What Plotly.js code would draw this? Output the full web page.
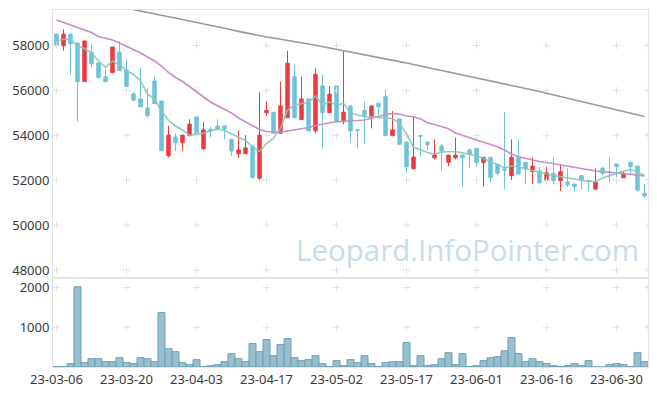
<!DOCTYPE html>
<html>
<head>
<meta charset="utf-8">
<script src="https://cdn.plot.ly/plotly-3.0.1.min.js"></script>
<style>html,body{margin:0;padding:0;background:#fff;}#chart{width:657px;height:396px;}</style>
</head>
<body>
<div id="chart"></div>
<script>
const dates = [
 '23-03-06','23-03-07','23-03-08','23-03-09','23-03-10','23-03-13','23-03-14','23-03-15','23-03-16','23-03-17',
 '23-03-20','23-03-21','23-03-22','23-03-23','23-03-24','23-03-27','23-03-28','23-03-29','23-03-30','23-03-31',
 '23-04-03','23-04-04','23-04-05','23-04-06','23-04-07','23-04-10','23-04-11','23-04-12','23-04-13','23-04-14',
 '23-04-17','23-04-18','23-04-19','23-04-20','23-04-21','23-04-24','23-04-25','23-04-26','23-04-27','23-04-28',
 '23-05-02','23-05-03','23-05-04','23-05-08','23-05-09','23-05-10','23-05-11','23-05-12','23-05-15','23-05-16',
 '23-05-17','23-05-18','23-05-19','23-05-22','23-05-23','23-05-24','23-05-25','23-05-26','23-05-30','23-05-31',
 '23-06-01','23-06-02','23-06-05','23-06-07','23-06-08','23-06-09','23-06-12','23-06-13','23-06-14','23-06-15',
 '23-06-16','23-06-19','23-06-20','23-06-21','23-06-22','23-06-23','23-06-26','23-06-27','23-06-28','23-06-29',
 '23-06-30','23-07-03','23-07-04','23-07-05','23-07-06'
];
const openP = [
 58510,57990,58510,58110,56390,57700,57220,56610,56790,57710,
 56910,55840,55620,55220,56420,55530,53090,53930,53670,53980,
 54820,53400,54270,54420,54420,53830,53180,53180,53520,52090,
 55010,55030,54090,54780,56610,54700,55620,54200,56200,55010,
 56200,54610,55310,54250,55110,54780,55430,55720,53980,54730,
 53700,52510,54000,53700,53000,53520,52800,53000,53120,53350,
 53420,52780,53020,52710,52500,52200,53050,52800,52380,52410,
 51980,52310,51980,51920,51830,52200,51990,51600,52530,52380,
 52720,52110,52800,52630,51420
];
const highP = [
 58520,58720,58510,58110,58200,58100,57220,56910,57930,58200,
 57390,55940,56990,56090,56610,55530,54420,54090,54010,54710,
 54820,54610,54380,54710,54420,53830,54220,54010,53520,55920,
 55500,55030,56390,57770,57130,56610,55620,56990,56720,56200,
 56200,57800,55310,54250,55500,55310,55430,56020,55080,54730,
 53700,54830,54000,53700,53820,53610,53120,53890,53120,53420,
 53420,53020,53020,52710,55030,53820,53820,52800,53020,52600,
 52600,53020,52710,52530,51830,52200,52000,52530,52600,53020,
 52720,52370,52800,52630,51830
];
const lowP = [
 57980,57770,56720,54610,56390,57010,56570,56390,56790,56880,
 56170,55500,55270,54780,55410,53310,53020,53300,53300,53980,
 54070,53350,53890,54190,53830,53090,53000,53180,52110,52000,
 54870,54090,54090,54780,54780,54700,54200,54090,53420,55010,
 54610,54490,53690,53420,53610,54310,54900,53980,53980,53600,
 52310,52510,53050,53310,52930,52410,52630,52930,51710,52530,
 52600,51710,51890,52230,51600,52010,52280,51830,51830,51830,
 51830,51830,51520,51710,51520,51600,51520,51600,52220,51920,
 51920,52110,52220,51490,51220
];
const closeP = [
 57990,58500,58070,56390,58200,57180,56570,56390,57930,56880,
 56170,55570,55270,54870,55410,53310,54010,53670,54010,54500,
 54070,54240,54190,54280,54280,53300,53350,53440,52110,54010,
 55110,54090,55310,57210,54780,55620,54200,56720,55010,55830,
 54610,55030,54200,54220,54870,55310,55270,53980,54240,53600,
 52600,53030,53960,53580,53120,53300,53120,53120,53000,53170,
 52780,53020,52110,52310,52450,53020,52280,52500,52630,51890,
 52330,51980,52380,51800,51710,52000,51960,51920,52310,52340,
 52600,52310,52600,51560,51300
];
const ma5 = [
 58214,58276,58276,57978,57866,57666,57310,57020,57310,57132,
 56887,56708,56419,55840,55617,55083,54660,54415,54237,53992,
 54059,54090,54205,54281,54214,54059,53902,53769,53479,53279,
 53635,53867,54326,55127,55328,55417,55461,55751,55350,55484,
 55350,55417,55016,54905,54838,54816,54816,54793,54749,54549,
 54059,53479,53346,53235,53146,53257,53270,53270,53221,53159,
 53079,52967,52811,52700,52544,52633,52589,52508,52442,52353,
 52277,52210,52152,52085,52041,51996,51956,51934,52099,52210,
 52322,52402,52477,52379,52210
];
const ma20 = [
 59136,59024,58913,58811,58713,58579,58401,58321,58245,58111,
 57969,57822,57666,57488,57310,57087,56798,56575,56397,56174,
 55929,55706,55484,55328,55172,54994,54771,54593,54415,54259,
 54170,54148,54134,54192,54237,54290,54348,54437,54504,54557,
 54602,54638,54651,54660,54682,54758,54838,54927,54971,54949,
 54860,54829,54727,54562,54482,54393,54290,54103,53992,53880,
 53791,53689,53591,53493,53346,53168,53047,52967,52900,52833,
 52789,52735,52677,52611,52544,52486,52446,52410,52379,52357,
 52335,52312,52268,52223,52188
];
const ma120 = [
 60294,60229,60164,60100,60035,59970,59905,59840,59775,59711,
 59646,59581,59520,59459,59398,59337,59276,59215,59154,59093,
 59032,58969,58901,58833,58766,58698,58630,58563,58495,58428,
 58379,58334,58285,58240,58183,58125,58067,58009,57951,57893,
 57835,57773,57711,57648,57590,57528,57466,57403,57345,57283,
 57221,57154,57091,57025,56962,56895,56833,56766,56704,56637,
 56575,56508,56446,56379,56312,56250,56183,56107,56031,55951,
 55876,55800,55724,55644,55568,55492,55417,55346,55274,55198,
 55127,55056,54985,54909,54838
];
const volume = [
 10,10,85,2020,110,210,210,135,135,235,
 110,85,235,210,135,1370,460,385,110,60,
 185,10,35,60,135,335,210,135,590,385,
 690,285,565,715,235,160,185,285,85,10,
 160,35,185,110,285,85,10,110,135,135,
 615,35,285,35,60,210,360,60,335,10,
 35,160,235,260,410,740,335,135,210,135,
 85,35,10,35,85,35,160,0,0,60,
 85,60,10,360,135
];
const priceTicks = [48000,50000,52000,54000,56000,58000];
const volTicks = [1000,2000];
const xTickEvery = 10;

const idx = dates.map((d,i)=>i);
const xTickVals = idx.filter(i => i % xTickEvery === 0);
const xTickText = xTickVals.map(i => dates[i]);

// grid crosses
const crossX = xTickVals.concat([dates.length - 0.5]);
function crosses(yTicks){
  const xs=[], ys=[];
  crossX.forEach(x => yTicks.forEach(y => { xs.push(x); ys.push(y); }));
  return {xs, ys};
}
const cp = crosses(priceTicks), cv = crosses(volTicks);
const crossMarker = {symbol:'cross-thin', size:5, color:'#e2e2e2', line:{color:'#e2e2e2', width:1}};

const RED = '#ee3a3f', BLUE = '#6ec3d9';
const traces = [
  {type:'scatter', mode:'markers', x:cp.xs, y:cp.ys, xaxis:'x', yaxis:'y', marker:crossMarker, hoverinfo:'skip', showlegend:false},
  {type:'scatter', mode:'markers', x:cv.xs, y:cv.ys, xaxis:'x2', yaxis:'y2', marker:crossMarker, hoverinfo:'skip', showlegend:false},
  {type:'candlestick', x:idx, open:openP, high:highP, low:lowP, close:closeP, xaxis:'x', yaxis:'y',
   increasing:{line:{color:RED, width:1}, fillcolor:RED},
   decreasing:{line:{color:BLUE, width:1}, fillcolor:BLUE},
   showlegend:false, hoverinfo:'skip'},
  {type:'scatter', mode:'lines', x:idx, y:ma120, xaxis:'x', yaxis:'y', line:{color:'#9a9a9a', width:1.6}, showlegend:false, hoverinfo:'skip'},
  {type:'scatter', mode:'lines', x:idx, y:ma20, xaxis:'x', yaxis:'y', line:{color:'#c98cc6', width:1.6}, showlegend:false, hoverinfo:'skip'},
  {type:'scatter', mode:'lines', x:idx, y:ma5, xaxis:'x', yaxis:'y', line:{color:'rgba(130,200,185,0.9)', width:1.6}, showlegend:false, hoverinfo:'skip'},
  {type:'bar', x:idx, y:volume, xaxis:'x2', yaxis:'y2', marker:{color:'#98bfd0', line:{color:'#6e9fb5', width:1}}, showlegend:false, hoverinfo:'skip'}
];

const axisFont = {family:'Noto Sans, DejaVu Sans, sans-serif', size:13, color:'#3a3a3a'};
const lineCol = '#e4e4e4';
const layout = {
  width:657, height:396,
  margin:{l:53, r:9, t:10, b:29, pad:0},
  paper_bgcolor:'#fff', plot_bgcolor:'#fff',
  bargap:0, boxgap:0.3,
  showlegend:false,
  xaxis:{domain:[0,1], anchor:'y', range:[-0.5, dates.length-0.5], showticklabels:false, showgrid:false, zeroline:false,
         showline:true, mirror:true, linecolor:lineCol, linewidth:1, ticks:'', rangeslider:{visible:false}, fixedrange:true},
  xaxis2:{domain:[0,1], anchor:'y2', range:[-0.5, dates.length-0.5], tickvals:xTickVals, ticktext:xTickText, showgrid:false, zeroline:false,
         showline:true, mirror:true, linecolor:lineCol, linewidth:1, ticks:'', tickfont:axisFont, fixedrange:true},
  yaxis:{domain:[0.2493,1], anchor:'x', range:[47645,59581], tickvals:priceTicks, tickformat:'d', showgrid:false, zeroline:false,
         showline:true, mirror:true, linecolor:lineCol, linewidth:1, ticks:'', tickfont:axisFont, fixedrange:true},
  yaxis2:{domain:[0,0.2493], anchor:'x2', range:[0,2240], tickvals:volTicks, tickformat:'d', showgrid:false, zeroline:false,
         showline:true, mirror:true, linecolor:lineCol, linewidth:1, ticks:'', tickfont:axisFont, fixedrange:true},
  annotations:[{xref:'paper', yref:'paper', x:0.697, y:0.328, xanchor:'center', yanchor:'middle', showarrow:false,
    text:'Leopard.InfoPointer.com', font:{family:'Open Sans, sans-serif', size:29.5, color:'#c8dce7'}}]
};
Plotly.newPlot('chart', traces, layout, {staticPlot:true, displayModeBar:false});
</script>
</body>
</html>
